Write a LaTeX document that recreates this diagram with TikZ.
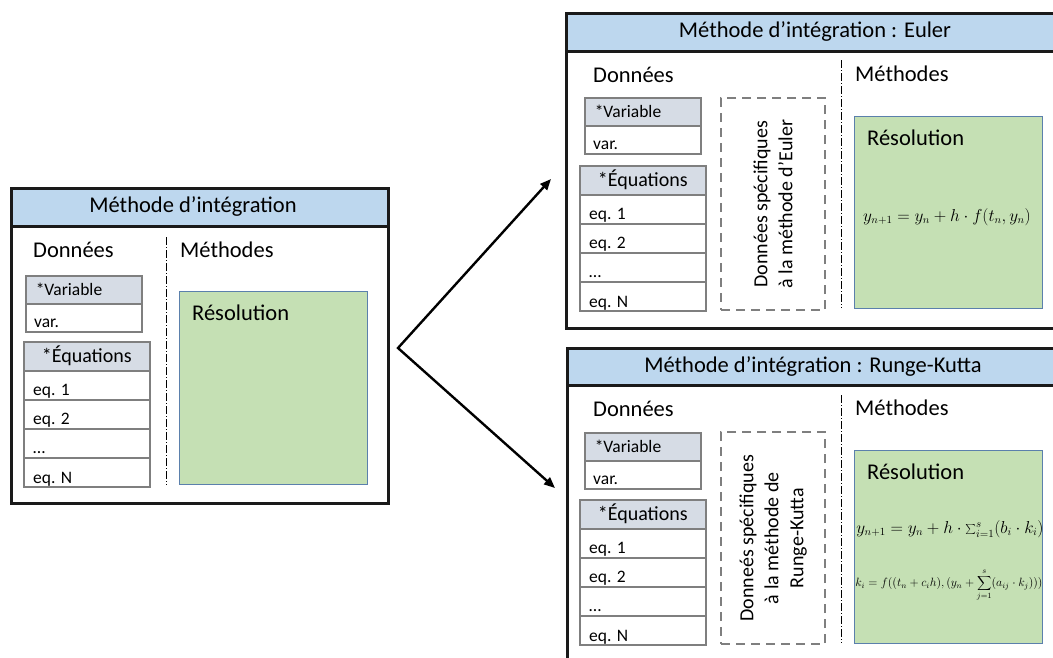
\documentclass[tikz,border=0pt]{standalone}
\usepackage{fontspec}
\setmainfont{Carlito}
\usetikzlibrary{arrows.meta,calc}
\definecolor{hdrblue}{HTML}{BDD7EE}
\definecolor{cellhdr}{HTML}{D6DCE5}
\definecolor{cellgray}{HTML}{7F7F7F}
\definecolor{resgreen}{HTML}{C5E0B4}
\definecolor{resblue}{HTML}{5B80AC}
\definecolor{dashgray}{HTML}{7F7F7F}
\definecolor{framedark}{HTML}{1A1A1A}

\tikzset{
  panelbox/.style={draw=framedark, line width=2.6pt, fill=white, inner sep=0pt, anchor=north west},
  headerbox/.style={draw=framedark, line width=2.6pt, fill=hdrblue, inner sep=0pt, anchor=north west},
  titletext/.style={font=\fontsize{22.5pt}{27pt}\selectfont, inner sep=0pt},
  sectext/.style={font=\fontsize{22.5pt}{27pt}\selectfont, inner sep=0pt, anchor=west},
  cellhead/.style={draw=cellgray, line width=1.5pt, fill=cellhdr, anchor=north west, inner ysep=0pt, inner xsep=10pt, minimum height=28pt},
  cellrow/.style={draw=cellgray, line width=1.5pt, fill=white, anchor=north west, inner sep=0pt},
  celltxt/.style={font=\fontsize{17.5pt}{21pt}\selectfont, inner sep=0pt, anchor=base west},
  resbox/.style={draw=resblue, line width=0.9pt, fill=resgreen, inner sep=0pt, anchor=north west},
  specbox/.style={draw=dashgray, line width=2.3pt, dash pattern=on 9pt off 6pt, inner sep=0pt, anchor=north west},
  spectext/.style={font=\fontsize{20pt}{25pt}\selectfont, rotate=90, align=center, inner sep=0pt},
  divider/.style={line width=0.8pt, dash pattern=on 8pt off 2pt on 1pt off 2pt},
  forkarrow/.style={line width=2.4pt, {Triangle[length=11pt,width=9pt]}-{Triangle[length=11pt,width=9pt]}}
}

% data column: prefix, var x, var y, eq x, eq y
\newcommand\datatables[5]{%
  \node[cellhead, minimum width=116pt, text width=96pt, align=left, font=\fontsize{17.5pt}{21pt}\selectfont] (#1var) at (#2,#3) {*Variable};
  \node[cellrow, minimum width=116pt, minimum height=28pt] (#1varrow) at (#2,#3+28) {};
  \node[celltxt] (#1vartxt) at ([xshift=9pt,yshift=5pt]#1varrow.south west) {var.};
  \node[cellhead, minimum width=126pt, minimum height=29pt, text width=106pt, align=center, font=\fontsize{20pt}{24pt}\selectfont] (#1eq) at (#4,#5) {*Équations};
  \node[cellrow, minimum width=126pt, minimum height=29pt] (#1eqa) at (#4,#5+29) {};
  \node[cellrow, minimum width=126pt, minimum height=29pt] (#1eqb) at (#4,#5+58) {};
  \node[cellrow, minimum width=126pt, minimum height=29pt] (#1eqc) at (#4,#5+87) {};
  \node[cellrow, minimum width=126pt, minimum height=29pt] (#1eqd) at (#4,#5+116) {};
  \node[celltxt] (#1eqatxt) at ([xshift=10pt,yshift=5pt]#1eqa.south west) {eq. 1};
  \node[celltxt] (#1eqbtxt) at ([xshift=10pt,yshift=5pt]#1eqb.south west) {eq. 2};
  \node[celltxt] (#1eqctxt) at ([xshift=10pt,yshift=5pt]#1eqc.south west) {…};
  \node[celltxt] (#1eqdtxt) at ([xshift=10pt,yshift=4pt]#1eqd.south west) {eq. N};
}

\begin{document}
\begin{tikzpicture}[x=1pt,y=-1pt]
\useasboundingbox (0,0) rectangle (1053,657);

% ---------------- left panel ----------------
\node[panelbox, minimum width=377pt, minimum height=315pt] (L) at (10,187) {};
\node[headerbox, minimum width=377pt, minimum height=38pt] (Lh) at (10,187) {};
\node[titletext] (Lt) at (193,206) {Méthode d’intégration};
\node[sectext] (Ld) at (33,250) {Données};
\node[sectext] (Lm) at (180,250) {Méthodes};
\coordinate (Ldivtop) at (166,237);
\coordinate (Ldivbot) at (166,485);
\draw[divider] (Ldivtop) -- (Ldivbot);
\datatables{L}{25}{275}{23}{341}
\node[resbox, minimum width=188pt, minimum height=193pt] (Lr) at (179,291) {};
\node[sectext] (Lrt) at (192,313) {Résolution};

% ---------------- top right panel (Euler) ----------------
\node[panelbox, minimum width=500pt, minimum height=315pt] (E) at (565,12) {};
\node[headerbox, minimum width=500pt, minimum height=38pt] (Eh) at (565,12) {};
\node[titletext] (Et) at (815,31) {Méthode d’intégration : Euler};
\node[sectext] (Ed) at (593,75) {Données};
\node[sectext] (Em) at (855,74) {Méthodes};
\coordinate (Edivtop) at (841,60);
\coordinate (Edivbot) at (841,308);
\draw[divider] (Edivtop) -- (Edivbot);
\datatables{E}{584}{97}{579}{165}
\node[specbox, minimum width=104pt, minimum height=212pt] (Es) at (720,97) {};
\node[spectext] (Est) at (Es.center) {Données spécifiques\\à la méthode d’Euler};
\node[resbox, minimum width=188pt, minimum height=192pt] (Er) at (854,116) {};
\node[sectext] (Ert) at (867,138) {Résolution};
\node[inner sep=0pt, font=\fontsize{16pt}{19pt}\selectfont] (Ef) at (947,217) {$y_{n+1} = y_n + h\cdot f(t_n, y_n)$};

% ---------------- bottom right panel (Runge-Kutta) ----------------
\node[panelbox, minimum width=500pt, minimum height=330pt] (R) at (566,347) {};
\node[headerbox, minimum width=500pt, minimum height=37pt] (Rh) at (566,347) {};
\node[titletext] (Rt) at (813,366) {Méthode d’intégration : Runge-Kutta};
\node[sectext] (Rd) at (593,409) {Données};
\node[sectext] (Rm) at (855,408) {Méthodes};
\coordinate (Rdivtop) at (841,395);
\coordinate (Rdivbot) at (841,643);
\draw[divider] (Rdivtop) -- (Rdivbot);
\datatables{R}{584}{432}{579}{499}
\node[specbox, minimum width=104pt, minimum height=212pt] (Rs) at (720,431) {};
\node[spectext] (Rst) at (Rs.center) {Donneés spécifiques\\à la méthode de\\Runge-Kutta};
\node[resbox, minimum width=188pt, minimum height=193pt] (Rr) at (854,450) {};
\node[sectext] (Rrt) at (867,472) {Résolution};
\node[inner sep=0pt, font=\fontsize{16pt}{19pt}\selectfont] (Rf1) at (950,529) {$y_{n+1} = y_n + h\cdot \textstyle\sum_{i=1}^{s}\bigl(b_i\cdot k_i\bigr)$};
\node[inner sep=0pt, font=\fontsize{11.5pt}{13pt}\selectfont] (Rf2) at (949,585) {$k_i = f((t_n + c_i h), (y_n + \displaystyle\sum_{j=1}^{s}(a_{ij}\cdot k_j)))$};

% ---------------- fork arrow ----------------
\coordinate (fork) at (398,348);
\coordinate (tipE) at (551,179);
\coordinate (tipR) at (555,488);
\draw[forkarrow] (tipE) -- (fork) -- (tipR);
\end{tikzpicture}
\end{document}
